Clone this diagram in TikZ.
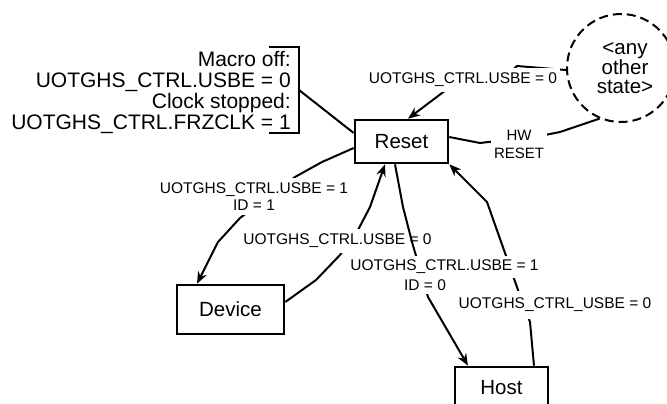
\documentclass[tikz,border=0pt]{standalone}
\usepackage{fontspec}
\setmainfont{Liberation Sans}
\usetikzlibrary{arrows.meta}
\begin{document}
\begin{tikzpicture}[x=1pt,y=-1pt,
  statebox/.style={draw,line width=2.6pt,rectangle,font=\fontsize{20.5}{22}\selectfont,inner sep=0pt},
  lbl/.style={fill=white,inner xsep=3pt,inner ysep=5pt,font=\fontsize{15.5}{17}\selectfont,align=center},
  edge/.style={line width=2pt,line join=round},
  arr/.style={edge,-{Stealth[length=12pt,width=9.5pt]}}]
\useasboundingbox (0,0) rectangle (667,404);

% states
\node[statebox,minimum width=93pt,minimum height=43pt] (reset) at (401.5,141.5) {Reset};
\node[statebox,minimum width=107pt,minimum height=49pt] (device) at (230.5,309.5) {Device};
\node[statebox,minimum width=93pt,minimum height=43pt,text depth=0pt] (host) at (501.5,388.5) {\raisebox{3pt}{Host}};
\node[draw,circle,dashed,dash pattern=on 9pt off 5pt,line width=2pt,minimum size=108pt,inner sep=0pt,
      align=center,font=\fontsize{20.5}{18.5}\selectfont] (other) at (621,68) {\hspace*{8pt}{<}any\\\hspace*{8pt}other\\\hspace*{8pt}state{>}};

% annotation with bracket
\node[anchor=east,inner sep=0pt,align=right,font=\fontsize{21}{20.7}\selectfont] (note) at (291,92.5)
  {Macro off:\\UOTGHS\_CTRL.USBE = 0\\Clock stopped:\\UOTGHS\_CTRL.FRZCLK = 1};
\coordinate (bt) at (269,47);
\coordinate (bb) at (269,133);
\coordinate (brk) at (299,90);
\draw[edge,line join=miter] (bt) -- (299,47) -- (299,133) -- (bb);
\draw[edge] (brk) -- ([yshift=8.5pt]reset.west);

% edges behind labels
\draw[arr] ([yshift=-2pt]other.west) -- (517,66) -- (508,74) -- (450,87) -- ([xshift=6.5pt]reset.north);
\draw[edge] (other.247) -- (560,132) -- (540,136) -- (480,143) -- ([yshift=4.5pt]reset.east);
\draw[arr] ([yshift=-6.5pt]reset.west) -- (322,162) -- (295,177) -- (240,218) -- (218,242) -- ([xshift=-33.5pt]device.north);
\draw[arr] ([yshift=7.5pt]device.east) -- (316,280) -- (340,255) -- (358,230) -- (370,207) -- ([xshift=-16.5pt]reset.south);
\draw[arr] ([xshift=32.5pt]host.north) -- (530,322) -- (518,290) -- (505,253) -- (487,202) -- (reset.south east);

% labels
\node[lbl] (l1) at (463,80) {UOTGHS\_CTRL.USBE = 0};
\node[lbl] (l2) at (254,196.5) {UOTGHS\_CTRL.USBE = 1\\ID = 1};
\node[lbl] (l3) at (337.5,241) {UOTGHS\_CTRL.USBE = 0};
\node[lbl,font=\fontsize{15}{18}\selectfont] (hw) at (519,144) {HW\\RESET};
\node[lbl,inner ysep=7pt] (l5) at (555,305) {UOTGHS\_CTRL\_USBE = 0};

% edge drawn over l3 but under l4
\draw[arr] ([xshift=-6.5pt]reset.south) -- (403,207) -- (412,242) -- (428,297) -- ([xshift=-33.5pt]host.north);
\node[lbl,inner ysep=4pt] (l4a) at (444.5,267) {UOTGHS\_CTRL.USBE = 1};
\node[lbl,inner ysep=4pt] (l4b) at (425,285) {ID = 0};
\end{tikzpicture}
\end{document}
